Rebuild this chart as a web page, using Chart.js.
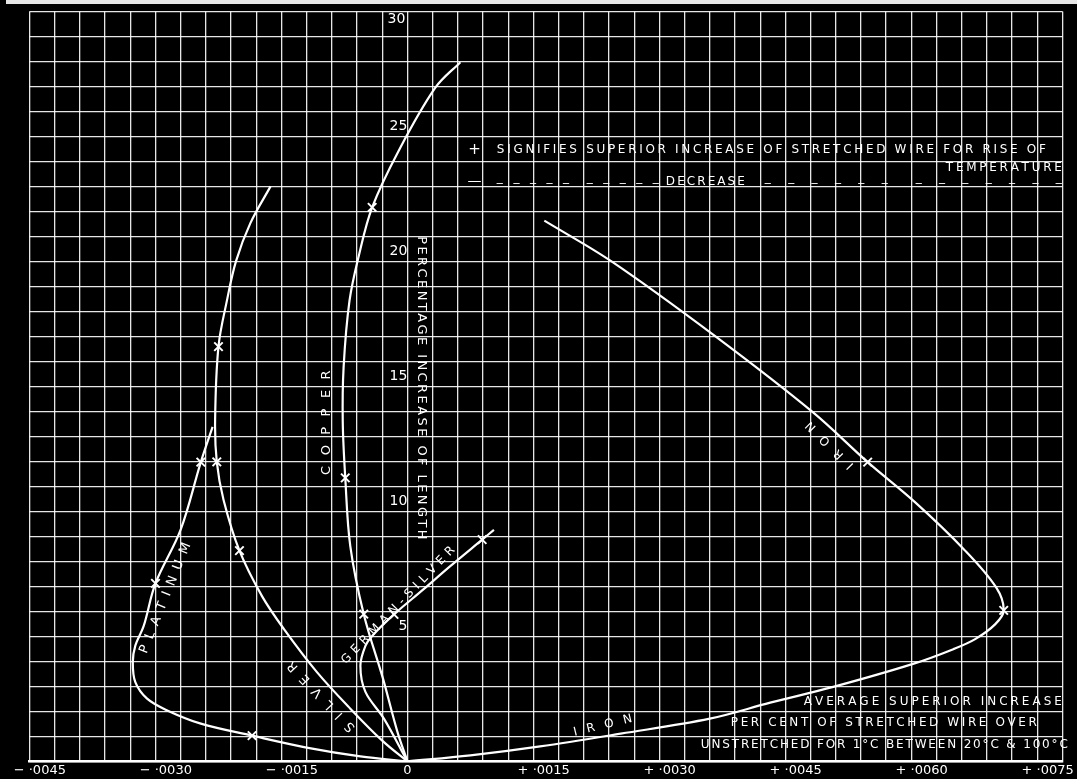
<!DOCTYPE html>
<html>
<head>
<meta charset="utf-8">
<script src="https://cdn.jsdelivr.net/npm/chart.js@4.4.1/dist/chart.umd.min.js"></script>
<style>
  html, body { margin: 0; padding: 0; background: #000; }
  #wrap { position: relative; width: 1077px; height: 779px; }
  #wrap::before { content: ""; position: absolute; left: 6px; right: 0; top: 0; height: 4px; background: #e6e6e6; }
</style>
</head>
<body>
<div id="wrap"><canvas id="wires" width="1077" height="779"></canvas></div>
<script>
// x: average superior increase per cent of stretched wire per 1°C, y: percentage increase of length
const copperX = [0, -0.00012, -0.00029, -0.00052, -0.00068, -0.00074, -0.00077, -0.00076, -0.00069, -0.00058, -0.00042, -0.00011, 0.00033, 0.00063];
const copperY = [0, 1.19, 3.30, 5.89, 8.60, 11.34, 13.57, 15.76, 18.42, 20.21, 22.16, 24.39, 26.94, 27.97];
const copperMarks = [3, 5, 10];

const silverX = [0, -0.00029, -0.00068, -0.00108, -0.00147, -0.00173, -0.00200, -0.00219, -0.00227, -0.00229, -0.00225, -0.00215, -0.00204, -0.00187, -0.00163];
const silverY = [0, 0.80, 2.11, 3.58, 5.29, 6.60, 8.43, 10.47, 11.98, 13.65, 16.59, 18.42, 20.02, 21.53, 23.0];
const silverMarks = [6, 8, 10];

const platinumX = [0, -0.00056, -0.00115, -0.00185, -0.00246, -0.00286, -0.00310, -0.00324, -0.00327, -0.00324, -0.00314, -0.00300, -0.00270, -0.00246, -0.00232];
const platinumY = [0, 0.20, 0.52, 1.03, 1.51, 2.04, 2.51, 3.17, 3.97, 4.63, 5.42, 7.12, 9.27, 11.97, 13.38];
const platinumMarks = [3, 11, 13];

const germanSilverX = [0, -0.00028, -0.00050, -0.00056, -0.00050, -0.00042, -0.00016, 0.00019, 0.00051, 0.00089, 0.00103];
const germanSilverY = [0, 1.71, 2.78, 3.83, 4.62, 5.02, 5.88, 6.88, 7.81, 8.87, 9.26];
const germanSilverMarks = [6, 9];

const ironX = [0, 0.00075, 0.00158, 0.00254, 0.00360, 0.00432, 0.00507, 0.00602, 0.00650, 0.00676, 0.00700, 0.00710, 0.00701, 0.00663, 0.00604, 0.00548, 0.00483, 0.00366, 0.00243, 0.00163];
const ironY = [0, 0.24, 0.60, 1.11, 1.71, 2.35, 2.98, 3.90, 4.49, 4.89, 5.49, 6.04, 6.96, 8.47, 10.38, 11.97, 13.96, 17.02, 20.00, 21.63];
const ironMarks = [11, 15];

const xTickValues = [-0.0045, -0.0030, -0.0015, 0, 0.0015, 0.0030, 0.0045, 0.0060, 0.0075];
const xTickLabels = ['\u2212 \u00b70045', '\u2212 \u00b70030', '\u2212 \u00b70015', '0', '+ \u00b70015', '+ \u00b70030', '+ \u00b70045', '+ \u00b70060', '+ \u00b70075'];
const yTickValues = [5, 10, 15, 20, 25, 30];
const yTickLabels = ['5', '10', '15', '20', '25', '30'];

const X_MIN = -0.0045, X_MAX = 0.0078, X_GRID = 0.0003;
const gridColor = 'rgba(255,255,255,0.9)';
const FONT = '"DejaVu Sans", sans-serif';

// lettering on the sheet: text laid from one data point to another
const notes = [
  { text: '+', from: [0.0008, 24.47], size: 15 },
  { text: 'SIGNIFIES SUPERIOR INCREASE OF STRETCHED WIRE FOR RISE OF', from: [0.001065, 24.47], to: [0.007601, 24.47], size: 12 },
  { text: 'TEMPERATURE', from: [0.006411, 23.73], to: [0.007792, 23.73], size: 12 },
  { text: '\u2014', from: [0.0008, 23.2], size: 14 },
  { text: '_ _ _ _ _  _ _ _ _ _', from: [0.001065, 23.35], to: [0.002994, 23.35], size: 12 },
  { text: 'DECREASE', from: [0.003077, 23.2], to: [0.004018, 23.2], size: 12 },
  { text: '_ _ _ _ _ _  _ _ _ _ _ _ _', from: [0.004256, 23.35], to: [0.007792, 23.35], size: 12 },
  { text: 'PERCENTAGE INCREASE OF LENGTH', from: [0.000161, 21.01], to: [0.000161, 8.87], size: 13 },
  { text: 'COPPER', from: [-0.000958, 11.46], to: [-0.000958, 15.64], size: 13 },
  { text: 'PLATINUM', from: [-0.003143, 4.34], to: [-0.002619, 8.72], size: 13 },
  { text: 'SILVER', from: [-0.000649, 1.27], to: [-0.001399, 3.94], size: 13 },
  { text: 'GERMAN-SILVER', from: [-0.000762, 3.96], to: [0.000542, 8.52], size: 12 },
  { text: 'IRON', from: [0.005292, 11.78], to: [0.004768, 13.53], size: 12 },
  { text: 'IRON', from: [0.001982, 1.15], to: [0.002673, 1.71], size: 12 },
  { text: 'AVERAGE SUPERIOR INCREASE', from: [0.00472, 2.39], to: [0.007792, 2.39], size: 12 },
  { text: 'PER CENT OF STRETCHED WIRE OVER', from: [0.003851, 1.55], to: [0.007494, 1.55], size: 12 },
  { text: 'UNSTRETCHED FOR 1\u00b0C BETWEEN 20\u00b0C & 100\u00b0C', from: [0.003494, 0.66], to: [0.007863, 0.66], size: 12 },
  { text: yTickLabels[5], from: [-0.00013, 29.67], size: 14 }
];

const notesPlugin = {
  id: 'notes',
  afterDraw(chart) {
    const { ctx, scales: { x, y } } = chart;
    notes.forEach(n => {
      const p1 = { x: x.getPixelForValue(n.from[0]), y: y.getPixelForValue(n.from[1]) };
      ctx.save();
      ctx.fillStyle = '#fff';
      ctx.textBaseline = 'middle';
      ctx.font = n.size + 'px ' + FONT;
      if (!n.to) {
        ctx.textAlign = 'center';
        ctx.fillText(n.text, p1.x, p1.y);
        ctx.restore();
        return;
      }
      const p2 = { x: x.getPixelForValue(n.to[0]), y: y.getPixelForValue(n.to[1]) };
      const len = Math.hypot(p2.x - p1.x, p2.y - p1.y);
      const ang = Math.atan2(p2.y - p1.y, p2.x - p1.x);
      const chars = [...n.text];
      const widths = chars.map(c => ctx.measureText(c).width);
      const total = widths.reduce((a, b) => a + b, 0);
      let gap = chars.length > 1 ? (len - total) / (chars.length - 1) : 0;
      let sx = 1;
      if (gap < 0) { sx = len / total; gap = 0; }
      ctx.translate(p1.x, p1.y);
      ctx.rotate(ang);
      ctx.scale(sx, 1);
      ctx.textAlign = 'left';
      let cx = 0;
      chars.forEach((c, i) => {
        ctx.fillText(c, cx, 0);
        cx += widths[i] + gap / sx;
      });
      ctx.restore();
    });
  }
};

function series(xs, ys) {
  return xs.map((v, i) => ({ x: v, y: ys[i] }));
}

function wire(label, xs, ys, marks) {
  return {
    label: label,
    data: series(xs, ys),
    showLine: true,
    borderColor: '#fff',
    borderWidth: 2.2,
    tension: 0.35,
    fill: false,
    pointStyle: 'crossRot',
    pointRadius: ctx => marks.includes(ctx.dataIndex) ? 6 : 0,
    pointBorderColor: '#fff',
    pointBackgroundColor: '#fff',
    pointBorderWidth: 2
  };
}

new Chart(document.getElementById('wires'), {
  type: 'scatter',
  data: {
    datasets: [
      wire('Copper', copperX, copperY, copperMarks),
      wire('Silver', silverX, silverY, silverMarks),
      wire('Platinum', platinumX, platinumY, platinumMarks),
      wire('German-silver', germanSilverX, germanSilverY, germanSilverMarks),
      wire('Iron', ironX, ironY, ironMarks)
    ]
  },
  options: {
    responsive: false,
    animation: false,
    devicePixelRatio: 1,
    events: [],
    layout: { padding: { left: 29.5, right: 14.5, top: 9, bottom: 0 } },
    plugins: { legend: { display: false }, tooltip: { enabled: false } },
    scales: {
      x: {
        type: 'linear',
        min: X_MIN,
        max: X_MAX,
        afterBuildTicks(scale) {
          const t = [];
          const n = Math.round((X_MAX - X_MIN) / X_GRID);
          for (let i = 0; i <= n; i++) t.push({ value: X_MIN + i * X_GRID });
          scale.ticks = t;
        },
        afterFit(scale) {
          scale.paddingLeft = 0;
          scale.paddingRight = 0;
        },
        grid: { color: gridColor, lineWidth: 1.3, drawTicks: false },
        border: { display: true, color: '#fff', width: 2.5 },
        ticks: {
          autoSkip: false,
          maxRotation: 0,
          padding: 1,
          color: '#fff',
          font: { family: FONT, size: 13 },
          callback(v) {
            const k = xTickValues.findIndex(t => Math.abs(t - v) < 1e-7);
            if (k < 0) return '';
            return xTickValues[k] === 0 ? xTickLabels[k] : '     ' + xTickLabels[k];
          }
        }
      },
      y: {
        type: 'linear',
        min: 0,
        max: 30,
        position: { x: 0 },
        grid: { color: gridColor, lineWidth: 1.3, drawTicks: false },
        border: { display: false },
        ticks: {
          stepSize: 1,
          autoSkip: false,
          padding: 3,
          labelOffset: -10,
          color: '#fff',
          font: { family: FONT, size: 14 },
          callback(v) {
            const k = yTickValues.indexOf(v);
            return (k < 0 || v === 30) ? '' : yTickLabels[k];
          }
        }
      }
    }
  },
  plugins: [notesPlugin]
});
</script>
</body>
</html>
